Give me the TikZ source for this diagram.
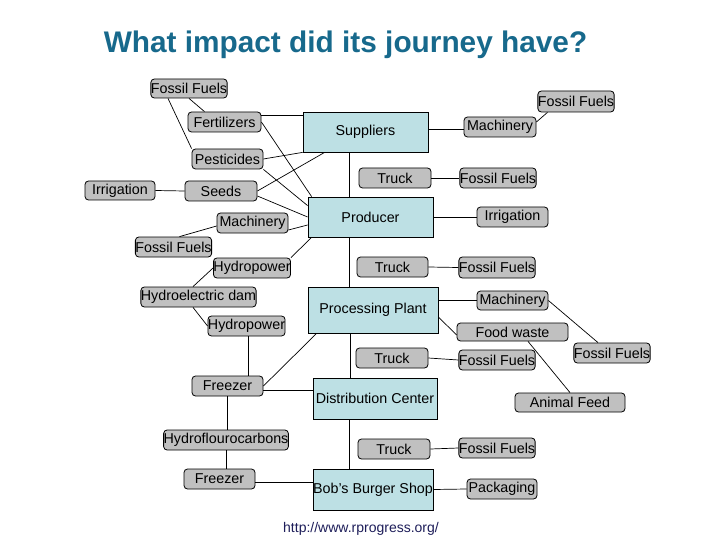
\documentclass[tikz,border=0pt]{standalone}
\usepackage{fontspec}
\setmainfont{Liberation Sans}
\usetikzlibrary{calc}
\definecolor{titleblue}{RGB}{23,105,140}
\definecolor{urlnavy}{RGB}{30,30,90}
\definecolor{boxblue}{RGB}{189,224,228}
\definecolor{boxgray}{RGB}{192,192,192}
\begin{document}
\begin{tikzpicture}[x=1pt,y=-1pt,
  gbox/.style={draw=black,fill=boxgray,rounded corners=3.5pt,inner sep=0pt,line width=0.8pt,
     font=\fontsize{14.3}{14}\selectfont},
  bbox/.style={draw=black,fill=boxblue,inner sep=0pt,line width=0.8pt,
     font=\fontsize{14.3}{14}\selectfont},
  link/.style={draw=black,line width=0.7pt}]
\useasboundingbox (0,0) rectangle (720,540);
\fill[white] (0,0) rectangle (720,540);
% title and footer
\node[anchor=base,text=titleblue,font=\fontsize{29.8}{31}\selectfont\bfseries] (title) at (345.5,53) {What impact did its journey have?};
\node[anchor=base,text=urlnavy,font=\fontsize{14}{14}\selectfont] (url) at (361,532) {http://www.rprogress.org/};
% blue boxes
\node[bbox,minimum width=125,minimum height=40] (sup) at (365.5,132) {Suppliers};
\node[bbox,minimum width=125,minimum height=40] (prod) at (370.5,217) {Producer};
\node[bbox,minimum width=130,minimum height=46] (proc) at (373,310) {Processing Plant};
\node[bbox,minimum width=124,minimum height=41] (dist) at (375,398.5) {Distribution Center};
\node[bbox,minimum width=120,minimum height=41] (bob) at (373,489.5) {Bob's Burger Shop};
% gray boxes left
\node[gbox,minimum width=74,minimum height=19] (ff1) at (189,88.5) {Fossil Fuels};
\node[gbox,minimum width=73,minimum height=20] (fert) at (224.5,122) {Fertilizers};
\node[gbox,minimum width=71,minimum height=20] (pest) at (227.5,159) {Pesticides};
\node[gbox,minimum width=72,minimum height=20] (seeds) at (221,191) {Seeds};
\node[gbox,minimum width=71,minimum height=20] (machL) at (252.5,223) {Machinery};
\node[gbox,minimum width=73,minimum height=20] (ffL) at (173.5,247) {Fossil Fuels};
\node[gbox,minimum width=70,minimum height=19] (irrL) at (120,190.5) {Irrigation};
\node[gbox,minimum width=72,minimum height=20] (hydro1) at (252,268) {Hydropower};
\node[gbox,minimum width=111,minimum height=20] (dam) at (198.5,297) {Hydroelectric dam};
\node[gbox,minimum width=73,minimum height=20] (hydro2) at (246.5,326) {Hydropower};
\node[gbox,minimum width=71,minimum height=20] (frz1) at (227.5,386) {Freezer};
\node[gbox,minimum width=122,minimum height=20] (hfc) at (226,440) {Hydroflourocarbons};
\node[gbox,minimum width=71,minimum height=20] (frz2) at (219.5,479) {Freezer};
% gray boxes right
\node[gbox,minimum width=72,minimum height=20] (machR) at (500,127) {Machinery};
\node[gbox,minimum width=72,minimum height=21] (ffTR) at (576,101.5) {Fossil Fuels};
\node[gbox,minimum width=72,minimum height=20] (truck1) at (395,178) {Truck};
\node[gbox,minimum width=72,minimum height=20] (ffT1) at (498,178) {Fossil Fuels};
\node[gbox,minimum width=71,minimum height=20] (irrR) at (512.5,217) {Irrigation};
\node[gbox,minimum width=71,minimum height=20] (truck2) at (392.5,267) {Truck};
\node[gbox,minimum width=72,minimum height=21] (ffT2) at (497,267.5) {Fossil Fuels};
\node[gbox,minimum width=71,minimum height=19] (machP) at (512.5,300.5) {Machinery};
\node[gbox,minimum width=111,minimum height=18] (food) at (512.5,332) {Food waste};
\node[gbox,minimum width=72,minimum height=20] (ffFR) at (612,353) {Fossil Fuels};
\node[gbox,minimum width=72,minimum height=20] (truck3) at (392,358) {Truck};
\node[gbox,minimum width=72,minimum height=20] (ffT3) at (497,360) {Fossil Fuels};
\node[gbox,minimum width=110,minimum height=19] (feed) at (570,402.5) {Animal Feed};
\node[gbox,minimum width=72,minimum height=20] (truck4) at (394,449) {Truck};
\node[gbox,minimum width=72,minimum height=20] (ffT4) at (497,448) {Fossil Fuels};
\node[gbox,minimum width=70,minimum height=20] (pack) at (502,489) {Packaging};
% connectors
\draw[link] (ff1.south) -- ([xshift=-20pt]fert.north);
\draw[link] ([xshift=-21pt]ff1.south) -- (pest.north west);
\draw[link] ($(fert.north east)+(0,4)$) -- ($(fert.north east -| sup.west)+(0,4)$);
\draw[link] (fert.east) -- ([xshift=4pt]prod.north west);
\draw[link] (pest.east) -- (sup.south west);
\draw[link] (pest.south east) -- ([yshift=-9pt]prod.north west);
\draw[link] (seeds.east) -- ([xshift=22pt]sup.south west);
\draw[link] ([yshift=-5pt]seeds.east) -- (prod.west);
\draw[link] (irrL.east) -- (seeds.west);
\draw[link] ([yshift=-7pt]machL.east) -- ([yshift=-8pt]prod.west);
\draw[link] ([yshift=-3pt]machL.west) -- ([xshift=6pt]ffL.north);
\draw[link] (hydro1.north east) -- ([xshift=4pt]prod.south west);
\draw[link] (hydro1.west) -- ([xshift=-5.5pt]dam.north);
\draw[link] ([xshift=-5.5pt]dam.south) -- (hydro2.west);
\draw[link] ($(hydro2.south)+(1.5,0)$) -- ($(hydro2.south |- frz1.north)+(1.5,0)$);
\draw[link] (frz1.east) -- ([xshift=9pt]proc.south west);
\draw[link] ($(frz1.east)+(0,4)$) -- ($(frz1.east -| dist.west)+(0,4)$);
\draw[link] (frz1.south) -- (frz1.south |- hfc.north);
\draw[link] (hfc.south) -- (hfc.south |- frz2.north);
\draw[link] ($(frz2.east)+(0,3)$) -- ($(frz2.east -| bob.west)+(0,3)$);
\draw[link] ($(sup.south)+(-16.5,0)$) -- ($(sup.south |- prod.north)+(-16.5,0)$);
\draw[link] ($(prod.south)+(-21.5,0)$) -- ($(prod.south |- proc.north)+(-21.5,0)$);
\draw[link] ($(proc.south)+(-23,0)$) -- ($(proc.south |- dist.north)+(-23,0)$);
\draw[link] ($(dist.south)+(-26,0)$) -- ($(dist.south |- bob.north)+(-26,0)$);
\draw[link] ($(sup.east)+(0,-3)$) -- ($(sup.east -| machR.west)+(0,-3)$);
\draw[link] ([yshift=5pt]machR.east) -- ([xshift=10pt]ffTR.south west);
\draw[link] (truck1.east) -- (ffT1.west);
\draw[link] (prod.east) -- (irrR.west);
\draw[link] (truck2.east) -- (ffT2.west);
\draw[link] (machP.west -| proc.east) -- (machP.west);
\draw[link] ([yshift=-7pt]proc.east) -- ([yshift=-3pt]food.west);
\draw[link] (machP.east) -- ([xshift=-14pt]ffFR.north);
\draw[link] ([xshift=15.5pt]food.south) -- (feed.north);
\draw[link] (truck3.east) -- (ffT3.west);
\draw[link] (truck4.east) -- (ffT4.west);
\draw[link] (bob.east) -- (pack.west);
\end{tikzpicture}
\end{document}
